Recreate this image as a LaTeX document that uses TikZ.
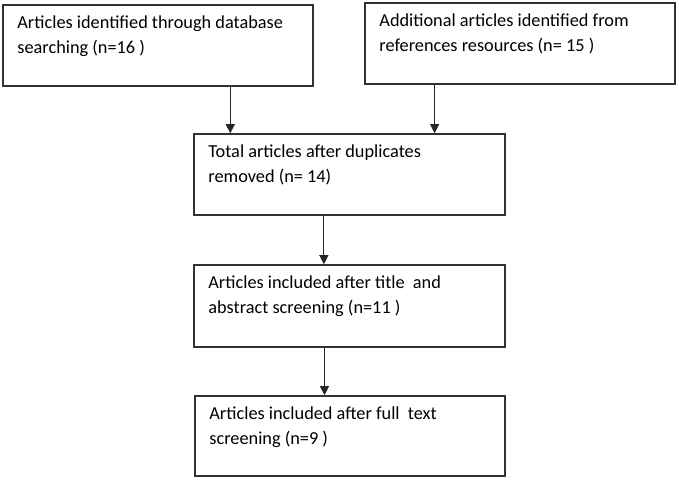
\documentclass[tikz,border=0pt]{standalone}
\usepackage{fontspec}
\setmainfont{Carlito}
\usetikzlibrary{arrows.meta,positioning,calc}

\tikzset{
  box/.style={rectangle, draw=black!80, line width=1.6pt, minimum width=310pt, minimum height=81pt, inner sep=0pt},
  boxtext/.style={anchor=north west, inner xsep=15pt, inner ysep=11pt, align=left,
    font=\fontsize{18.3}{25}\selectfont},
  flow/.style={draw=black!85, line width=1.2pt, -{Triangle[width=9pt,length=9pt]}}
}

\begin{document}
\begin{tikzpicture}[x=1pt, y=-1pt]
\useasboundingbox (0,0) rectangle (679,481);
% top row
\node[box, label={[boxtext]north west:{Articles identified through database\\searching (n=16 )}}] (database) at (158,45.5) {};
\node[box, label={[boxtext]north west:{Additional articles identified from\\references resources (n=~15 )}}] (references) at (520,43.5) {};
% main column
\node[box, minimum width=311pt, label={[boxtext]north west:{Total articles after duplicates\\removed (n=~14)}}] (total) at (349.5,174.5) {};
\node[box, minimum width=311pt, minimum height=82pt, label={[boxtext]north west:{Articles included after title~ and\\abstract screening (n=11 )}}] (abstract) at (349.5,306) {};
\node[box, minimum width=310pt, minimum height=80pt, label={[boxtext]north west:{Articles included after full~ text\\screening (n=9 )}}] (fulltext) at (350,436) {};

% arrows
\draw[flow] ($(database.south west)!0.732!(database.south east)$) coordinate (d1) -- (d1 |- total.north);
\draw[flow] ($(references.south west)!0.226!(references.south east)$) coordinate (r1) -- (r1 |- total.north);
\draw[flow] ($(total.south west)!0.418!(total.south east)$) coordinate (t1) -- (t1 |- abstract.north);
\draw[flow] ($(abstract.south west)!0.42!(abstract.south east)$) coordinate (a1) -- (a1 |- fulltext.north);
\end{tikzpicture}
\end{document}
